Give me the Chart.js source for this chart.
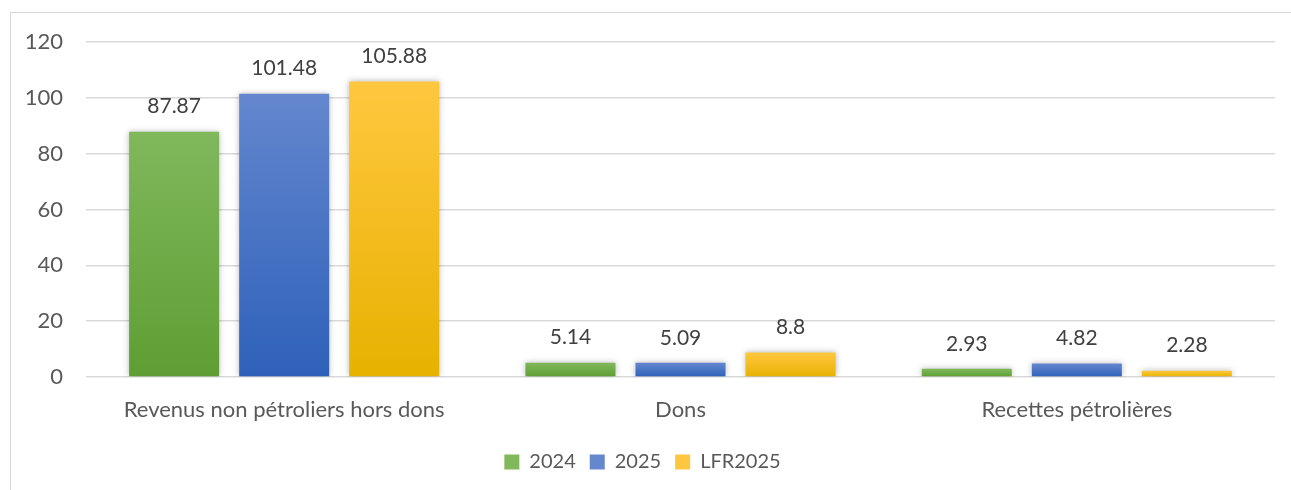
<!DOCTYPE html>
<html>
<head>
<meta charset="utf-8">
<script src="https://cdn.jsdelivr.net/npm/chart.js@4.4.1/dist/chart.umd.min.js"></script>
<style>
  html, body { margin: 0; padding: 0; background: #fff; }
  #wrap { position: relative; width: 1291px; height: 490px; }
  #frame { position: absolute; left: 10px; top: 12px; right: -5px; bottom: -5px; border-left: 1.5px solid #d9d9d9; border-top: 1.5px solid #d9d9d9; }
  canvas { position: absolute; left: 0; top: 0; }
</style>
</head>
<body>
<div id="wrap">
  <div id="frame"></div>
  <canvas id="myChart" width="1291" height="490"></canvas>
</div>
<script>
const categories = ["Revenus non pétroliers hors dons", "Dons", "Recettes pétrolières"];
const seriesNames = ["2024", "2025", "LFR2025"];
const values2024 = [87.87, 5.14, 2.93];
const values2025 = [101.48, 5.09, 4.82];
const valuesLFR2025 = [105.88, 8.8, 2.28];
const yTicks = [0, 20, 40, 60, 80, 100, 120];

const FONT = "Lato, 'Open Sans', sans-serif";

// top / bottom colours of each bar gradient
const shades = [
    ["#80b85c", "#5e9e33"],
    ["#6487ce", "#2e61ba"],
    ["#ffc73f", "#e6b200"],
];

function barFill(i) {
    return (c) => {
        const y = c.chart.scales.y;
        if (!y || c.raw === undefined) return shades[i][1];
        const top = y.getPixelForValue(c.raw);
        const base = y.getPixelForValue(0);
        if (!isFinite(top) || !isFinite(base) || top === base) return shades[i][1];
        const g = c.chart.ctx.createLinearGradient(0, top, 0, base);
        g.addColorStop(0, shades[i][0]);
        g.addColorStop(1, shades[i][1]);
        return g;
    };
}

const barShadow = {
    id: "barShadow",
    beforeDatasetDraw(chart) {
        const ctx = chart.ctx;
        ctx.save();
        ctx.shadowColor = "rgba(0,0,0,0.28)";
        ctx.shadowBlur = 6;
        ctx.shadowOffsetX = 0;
        ctx.shadowOffsetY = 0;
    },
    afterDatasetDraw(chart) {
        chart.ctx.restore();
    },
};

const valueLabels = {
    id: "valueLabels",
    afterDatasetsDraw(chart) {
        const ctx = chart.ctx;
        ctx.save();
        ctx.font = "21px " + FONT;
        ctx.fillStyle = "#404040";
        ctx.textAlign = "center";
        ctx.textBaseline = "middle";
        chart.data.datasets.forEach((ds, i) => {
            chart.getDatasetMeta(i).data.forEach((bar, j) => {
                ctx.fillText(String(ds.data[j]), bar.x, bar.y - 25);
            });
        });
        ctx.restore();
    },
};

const seriesData = [values2024, values2025, valuesLFR2025];

const d = {
    labels: categories,
    datasets: seriesNames.map((name, i) => ({
        label: name,
        data: seriesData[i],
        backgroundColor: barFill(i),
        borderWidth: 0,
        categoryPercentage: 0.833,
        barPercentage: 0.818,
    })),
};

const opt = {
    responsive: false,
    animation: false,
    layout: { padding: { left: 10, right: 16, top: 42, bottom: 8 } },
    scales: {
        x: {
            grid: { display: false },
            border: { display: false },
            ticks: { color: "#595959", font: { family: FONT, size: 22 }, padding: 12 },
            afterFit: (s) => { s.height = 61; },
        },
        y: {
            min: 0,
            max: 120,
            afterBuildTicks: (s) => { s.ticks = yTicks.map((v) => ({ value: v })); },
            grid: { color: "#d9d9d9", lineWidth: 1.5, drawTicks: false },
            border: { display: false },
            ticks: { color: "#595959", font: { family: FONT, size: 22 }, padding: 23 },
            afterFit: (s) => { s.width = 76; },
        },
    },
    plugins: {
        legend: {
            position: "bottom",
            labels: {
                color: "#595959",
                font: { family: FONT, size: 20 },
                boxWidth: 15,
                boxHeight: 15,
                padding: 14,
                generateLabels: (chart) => chart.data.datasets.map((ds, i) => ({
                    text: ds.label,
                    fillStyle: shades[i][0],
                    strokeStyle: shades[i][0],
                    lineWidth: 0,
                    hidden: false,
                    datasetIndex: i,
                    fontColor: "#595959",
                })),
            },
        },
        tooltip: { enabled: false },
    },
};

const ctx = document.getElementById("myChart");

new Chart(ctx, {
    type: "bar",
    data: d,
    options: opt,
    plugins: [barShadow, valueLabels],
});
</script>
</body>
</html>
